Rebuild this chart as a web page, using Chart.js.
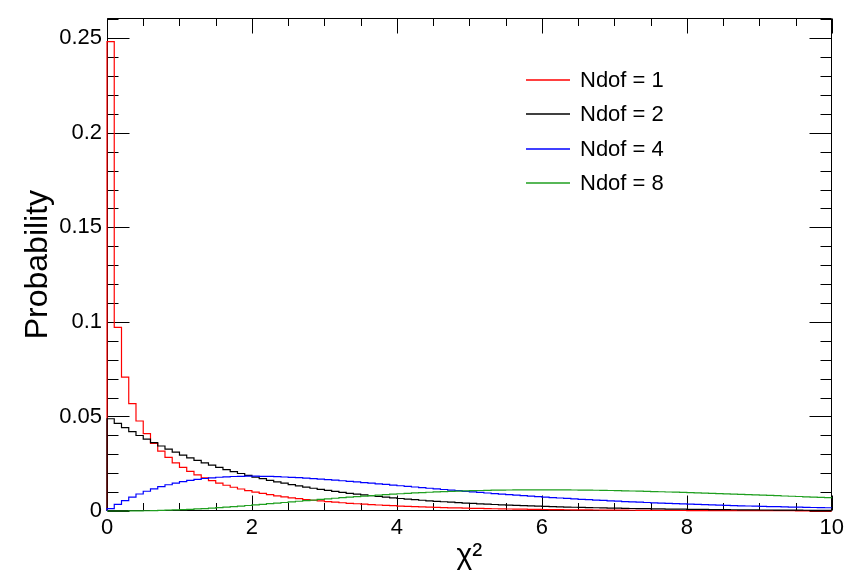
<!DOCTYPE html>
<html>
<head>
<meta charset="utf-8">
<script src="https://cdn.jsdelivr.net/npm/chart.js@4.4.0/dist/chart.umd.min.js"></script>
<style>
  html, body { margin: 0; padding: 0; background: #ffffff; }
  #wrap { width: 848px; height: 574px; }
</style>
</head>
<body>
<div id="wrap"><canvas id="c" width="848" height="574"></canvas></div>
<script>
// ---------------- data (bin contents, 100 bins over 0..10) ----------------
const xRange = [0, 10];
const seriesLabels = ['Ndof = 1', 'Ndof = 2', 'Ndof = 4', 'Ndof = 8'];
const seriesColors = ['#ff0000', '#000000', '#0000ff', '#1f9f1f'];

const ndof1 = [
  0.24817, 0.09711, 0.07084, 0.05679, 0.04759, 0.04092, 0.03579, 0.03169, 0.02831, 0.02547,
  0.02303, 0.02093, 0.01910, 0.01748, 0.01605, 0.01476, 0.01361, 0.01257, 0.01163, 0.01078,
  0.01000, 0.00929, 0.00864, 0.00804, 0.00749, 0.00698, 0.00651, 0.00608, 0.00568, 0.00531,
  0.00497, 0.00465, 0.00436, 0.00408, 0.00383, 0.00359, 0.00337, 0.00316, 0.00297, 0.00279,
  0.00262, 0.00246, 0.00231, 0.00217, 0.00204, 0.00192, 0.00181, 0.00170, 0.00160, 0.00151,
  0.00142, 0.00134, 0.00126, 0.00119, 0.00112, 0.00106, 0.00100, 0.00094, 0.00089, 0.00084,
  0.00079, 0.00074, 0.00070, 0.00066, 0.00063, 0.00059, 0.00056, 0.00053, 0.00050, 0.00047,
  0.00044, 0.00042, 0.00040, 0.00037, 0.00035, 0.00033, 0.00032, 0.00030, 0.00028, 0.00027,
  0.00025, 0.00024, 0.00023, 0.00021, 0.00020, 0.00019, 0.00018, 0.00017, 0.00016, 0.00015,
  0.00014, 0.00014, 0.00013, 0.00012, 0.00012, 0.00011, 0.00010, 0.00010, 0.00009, 0.00009
];
const ndof2 = [
  0.04877, 0.04639, 0.04413, 0.04198, 0.03993, 0.03798, 0.03613, 0.03437, 0.03269, 0.03110,
  0.02958, 0.02814, 0.02677, 0.02546, 0.02422, 0.02304, 0.02191, 0.02084, 0.01983, 0.01886,
  0.01794, 0.01707, 0.01623, 0.01544, 0.01469, 0.01397, 0.01329, 0.01264, 0.01203, 0.01144,
  0.01088, 0.01035, 0.00985, 0.00937, 0.00891, 0.00848, 0.00806, 0.00767, 0.00729, 0.00694,
  0.00660, 0.00628, 0.00597, 0.00568, 0.00540, 0.00514, 0.00489, 0.00465, 0.00442, 0.00421,
  0.00400, 0.00381, 0.00362, 0.00345, 0.00328, 0.00312, 0.00297, 0.00282, 0.00268, 0.00255,
  0.00243, 0.00231, 0.00220, 0.00209, 0.00199, 0.00189, 0.00180, 0.00171, 0.00163, 0.00155,
  0.00147, 0.00140, 0.00133, 0.00127, 0.00121, 0.00115, 0.00109, 0.00104, 0.00099, 0.00094,
  0.00089, 0.00085, 0.00081, 0.00077, 0.00073, 0.00070, 0.00066, 0.00063, 0.00060, 0.00057,
  0.00054, 0.00052, 0.00049, 0.00047, 0.00044, 0.00042, 0.00040, 0.00038, 0.00036, 0.00035
];
const ndof4 = [
  0.00121, 0.00348, 0.00552, 0.00735, 0.00898, 0.01044, 0.01174, 0.01289, 0.01389, 0.01477,
  0.01553, 0.01618, 0.01673, 0.01718, 0.01756, 0.01785, 0.01808, 0.01824, 0.01834, 0.01839,
  0.01839, 0.01835, 0.01826, 0.01814, 0.01799, 0.01781, 0.01761, 0.01738, 0.01714, 0.01687,
  0.01659, 0.01630, 0.01600, 0.01569, 0.01537, 0.01504, 0.01471, 0.01438, 0.01404, 0.01370,
  0.01336, 0.01303, 0.01269, 0.01236, 0.01202, 0.01169, 0.01137, 0.01105, 0.01073, 0.01042,
  0.01011, 0.00981, 0.00951, 0.00922, 0.00893, 0.00865, 0.00838, 0.00811, 0.00785, 0.00759,
  0.00734, 0.00710, 0.00687, 0.00664, 0.00641, 0.00619, 0.00598, 0.00577, 0.00557, 0.00538,
  0.00519, 0.00501, 0.00483, 0.00466, 0.00449, 0.00433, 0.00417, 0.00402, 0.00387, 0.00373,
  0.00360, 0.00346, 0.00333, 0.00321, 0.00309, 0.00297, 0.00286, 0.00275, 0.00265, 0.00255,
  0.00245, 0.00236, 0.00227, 0.00218, 0.00210, 0.00202, 0.00194, 0.00186, 0.00179, 0.00172
];
const ndof8 = [
  0.00000, 0.00000, 0.00001, 0.00004, 0.00008, 0.00013, 0.00021, 0.00030, 0.00042, 0.00056,
  0.00071, 0.00089, 0.00109, 0.00130, 0.00154, 0.00179, 0.00205, 0.00233, 0.00262, 0.00291,
  0.00322, 0.00353, 0.00385, 0.00417, 0.00450, 0.00483, 0.00515, 0.00548, 0.00580, 0.00612,
  0.00643, 0.00674, 0.00704, 0.00734, 0.00762, 0.00790, 0.00817, 0.00842, 0.00867, 0.00891,
  0.00913, 0.00935, 0.00955, 0.00974, 0.00992, 0.01009, 0.01024, 0.01038, 0.01051, 0.01063,
  0.01074, 0.01084, 0.01092, 0.01099, 0.01105, 0.01110, 0.01114, 0.01117, 0.01119, 0.01120,
  0.01120, 0.01119, 0.01117, 0.01115, 0.01111, 0.01107, 0.01102, 0.01096, 0.01090, 0.01083,
  0.01075, 0.01067, 0.01058, 0.01048, 0.01039, 0.01028, 0.01018, 0.01006, 0.00995, 0.00983,
  0.00971, 0.00958, 0.00945, 0.00932, 0.00919, 0.00906, 0.00892, 0.00878, 0.00865, 0.00851,
  0.00837, 0.00822, 0.00808, 0.00794, 0.00780, 0.00766, 0.00751, 0.00737, 0.00723, 0.00709
];

const xTickValues = [0, 2, 4, 6, 8, 10];
const xTickLabels = ['0', '2', '4', '6', '8', '10'];
const yTickValues = [0, 0.05, 0.1, 0.15, 0.2, 0.25];
const yTickLabels = ['0', '0.05', '0.1', '0.15', '0.2', '0.25'];
const xMinorStep = 0.5;
const yMinorStep = 0.01;
const yMaxValue = 0.2606;
const xTitle = 'χ²';
const yTitle = 'Probability';

// ---------------- build step outlines ----------------
function histPoints(vals) {
  const w = (xRange[1] - xRange[0]) / vals.length;
  const pts = [{ x: xRange[0], y: 0 }];
  vals.forEach((v, i) => pts.push({ x: xRange[0] + i * w, y: v }));
  pts.push({ x: xRange[1], y: vals[vals.length - 1] });
  return pts;
}
const allSeries = [ndof1, ndof2, ndof4, ndof8];

const FONT = "'Liberation Sans', Arial, Helvetica, sans-serif";

// ---------------- ROOT-style frame with inward ticks ----------------
const rootFrame = {
  id: 'rootFrame',
  beforeDatasetsDraw(chart) {
    const ctx = chart.ctx;
    const a = chart.chartArea;
    const xs = chart.scales.x, ys = chart.scales.y;
    const L = Math.round(a.left) + 0.5, R = Math.round(a.right) - 0.5;
    const T = Math.round(a.top) + 0.5, B = Math.round(a.bottom) - 0.5;
    ctx.save();
    ctx.strokeStyle = '#000';
    ctx.lineWidth = 1;
    ctx.beginPath();
    ctx.rect(L, T, R - L, B - T);
    const nx = Math.round((xs.max - xs.min) / xMinorStep);
    for (let i = 0; i <= nx; i++) {
      const v = xs.min + i * xMinorStep;
      const major = xTickValues.some(t => Math.abs(t - v) < 1e-9);
      const len = major ? 15 : 7.5;
      const px = Math.round(xs.getPixelForValue(v)) + 0.5;
      ctx.moveTo(px, B); ctx.lineTo(px, B - len);
      ctx.moveTo(px, T); ctx.lineTo(px, T + len);
    }
    const ny = Math.floor((ys.max - ys.min) / yMinorStep + 1e-6);
    for (let i = 0; i <= ny; i++) {
      const v = ys.min + i * yMinorStep;
      const major = yTickValues.some(t => Math.abs(t - v) < 1e-9);
      const len = major ? 22 : 11;
      const py = Math.round(ys.getPixelForValue(v)) + 0.5;
      ctx.moveTo(L, py); ctx.lineTo(L + len, py);
      ctx.moveTo(R, py); ctx.lineTo(R - len, py);
    }
    ctx.stroke();
    ctx.restore();
  },
  afterDatasetsDraw(chart) {
    // legend inside the frame, upper right
    const ctx = chart.ctx;
    const lg = { lineX0: 526, lineX1: 570, textX: 580, y0: 79.5, dy: 34.5 };
    ctx.save();
    ctx.font = '22px ' + FONT;
    ctx.textBaseline = 'middle';
    ctx.textAlign = 'left';
    chart.data.datasets.forEach((ds, i) => {
      const y = Math.round(lg.y0 + i * lg.dy);
      ctx.lineWidth = 1.5;
      ctx.strokeStyle = seriesColors[i];
      ctx.beginPath();
      ctx.moveTo(lg.lineX0, y);
      ctx.lineTo(lg.lineX1, y);
      ctx.stroke();
      ctx.fillStyle = '#000';
      ctx.fillText(ds.label, lg.textX, y + 1);
    });
    ctx.restore();
  }
};

const datasets = allSeries.map((vals, i) => ({
  label: seriesLabels[i],
  data: histPoints(vals),
  borderColor: seriesColors[i],
  backgroundColor: seriesColors[i],
  borderWidth: 1.2,
  pointRadius: 0,
  fill: false,
  stepped: 'before',
  tension: 0,
  clip: 2,
  order: allSeries.length - 1 - i
}));

new Chart(document.getElementById('c'), {
  type: 'line',
  data: { datasets },
  plugins: [rootFrame],
  options: {
    responsive: false,
    animation: false,
    devicePixelRatio: 1,
    layout: { padding: { top: 12, right: 14, left: 0, bottom: 0 } },
    plugins: { legend: { display: false }, tooltip: { enabled: false } },
    scales: {
      x: {
        type: 'linear',
        min: xRange[0], max: xRange[1],
        afterBuildTicks: s => { s.ticks = xTickValues.map(v => ({ value: v })); },
        afterFit: s => { s.height = 63; },
        ticks: {
          autoSkip: false, maxRotation: 0,
          color: '#000', padding: 4,
          font: { family: FONT, size: 22 },
          callback: (v) => xTickLabels[xTickValues.indexOf(v)]
        },
        grid: { display: false, drawTicks: false },
        border: { display: false },
        title: { display: true, text: xTitle, color: '#000', font: { family: FONT, size: 30 }, padding: { top: 0, bottom: 0 } }
      },
      y: {
        type: 'linear',
        min: 0, max: yMaxValue,
        afterBuildTicks: s => { s.ticks = yTickValues.map(v => ({ value: v })); },
        afterFit: s => { s.width = 107; },
        ticks: {
          autoSkip: false,
          color: '#000', padding: 5,
          font: { family: FONT, size: 22 },
          callback: (v) => yTickLabels[yTickValues.indexOf(v)]
        },
        grid: { display: false, drawTicks: false },
        border: { display: false },
        title: { display: true, text: yTitle, color: '#000', font: { family: FONT, size: 32 }, padding: { top: 19, bottom: 0 } }
      }
    }
  }
});
</script>
</body>
</html>
